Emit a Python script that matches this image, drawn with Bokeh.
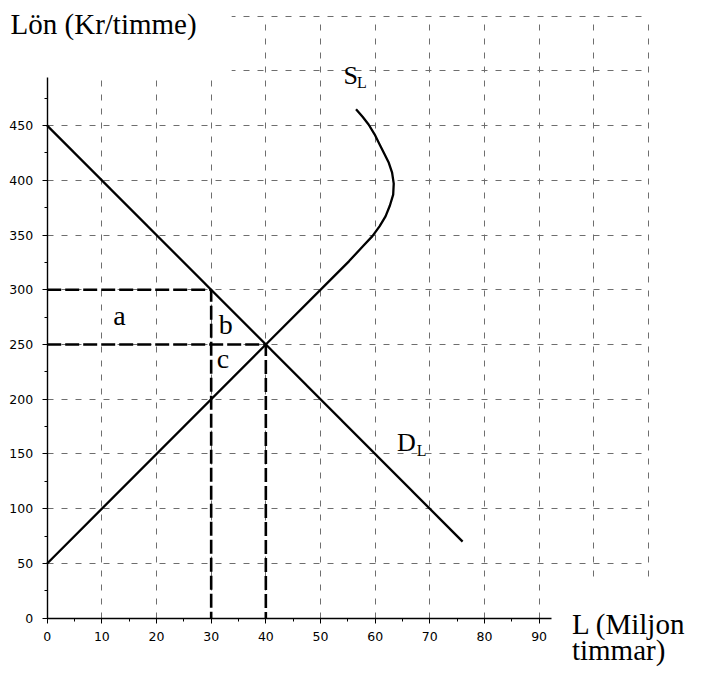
from bokeh.plotting import figure
from bokeh.models import (LinearAxis, SingleIntervalTicker, Grid, BoxAnnotation,
                          Label, Range1d)
from bokeh.embed import file_html
from bokeh.resources import INLINE

# ---- data ----
demand_L = [0, 76]
demand_W = [450, 70]

supply_L = [0, 40, 52, 55.2, 57.8, 59.5, 60.8, 61.9, 62.7, 63.3, 63.4, 63.1,
            62.5, 61.7, 60.8, 59.9, 58.8, 57.7, 56.5]
supply_W = [50, 250, 310, 326, 340, 349, 358, 367, 377, 387, 397, 407,
            416, 424, 433, 442, 451, 458, 465]

wage_levels = [300, 250]
labor_levels = [30, 40]

x_tick_step = 10
y_tick_step = 50
x_axis_max = 92.3
y_axis_max = 494
grid_x_max = 110
grid_y_max = 550

# ---- figure ----
p = figure(width=695, height=667,
           x_range=Range1d(-8.544, 118.61), y_range=Range1d(-45.04, 564.27),
           x_axis_type=None, y_axis_type=None,
           output_backend="svg", toolbar_location=None,
           min_border=0, outline_line_color=None,
           background_fill_color="white", border_fill_color="white")

grid_style = dict(grid_line_color="#6e6e6e", grid_line_dash="6 8",
                  grid_line_width=1, level="image")
xgrid = Grid(dimension=0, ticker=SingleIntervalTicker(interval=x_tick_step),
             bounds=(x_tick_step, grid_x_max), cross_bounds=(0, grid_y_max), **grid_style)
ygrid = Grid(dimension=1, ticker=SingleIntervalTicker(interval=y_tick_step),
             bounds=(y_tick_step, grid_y_max), cross_bounds=(0, grid_x_max), **grid_style)
p.add_layout(xgrid, "center")
p.add_layout(ygrid, "center")

# white text boxes that hide the grid behind the axis titles
p.add_layout(BoxAnnotation(right=33.75, bottom=y_axis_max, fill_color="white",
                           fill_alpha=1, line_color=None, level="underlay"))
p.add_layout(BoxAnnotation(left=93.9, top=31.7, fill_color="white",
                           fill_alpha=1, line_color=None, level="underlay"))

# dashed guide lines
guide_xs = [[0, q, q] for q in labor_levels]
guide_ys = [[w, w, 0] for w in wage_levels]
p.multi_line(guide_xs, guide_ys, line_color="black", line_width=2.6,
             line_dash="14 4")

# curves
p.line(demand_L, demand_W, line_color="black", line_width=2.3)
p.line(supply_L, supply_W, line_color="black", line_width=2.3,
       line_join="round")

# axes
axis_style = dict(axis_line_color="black", axis_line_width=1.4,
                  major_tick_line_color="black", minor_tick_line_color="black",
                  major_tick_in=0, major_tick_out=5, minor_tick_in=0, minor_tick_out=3,
                  major_label_text_font="DejaVu Sans",
                  major_label_text_font_size="12.5px",
                  major_label_text_color="black")
xaxis = LinearAxis(fixed_location=0, bounds=(0, x_axis_max),
                   ticker=SingleIntervalTicker(interval=x_tick_step, num_minor_ticks=2),
                   major_label_standoff=9, **axis_style)
yaxis = LinearAxis(fixed_location=0, bounds=(0, y_axis_max),
                   ticker=SingleIntervalTicker(interval=y_tick_step, num_minor_ticks=2),
                   major_label_standoff=9, **axis_style)
p.add_layout(xaxis, "below")
p.add_layout(yaxis, "left")

# texts
serif = "Liberation Serif"
def lab(x, y, t, size):
    p.add_layout(Label(x=x, y=y, text=t, text_font=serif, text_font_size=size,
                       text_color="black", text_baseline="alphabetic",
                       text_align="left"))

lab(-6.7, 542.8, "Lön (Kr/timme)", "29px")
lab(96.0, -5.0, "L (Miljon", "29px")
lab(96.0, -28.7, "timmar)", "29px")
lab(54.2, 495.6, "S", "26px")
lab(56.7, 489.5, "L", "16px")
lab(64.0, 160.4, "D", "26px")
lab(67.6, 153.6, "L", "16px")
lab(12.1, 276.1, "a", "28px")
lab(31.4, 268.5, "b", "28px")
lab(31.0, 237.4, "c", "28px")

open("out.html", "w").write(file_html(p, INLINE))
